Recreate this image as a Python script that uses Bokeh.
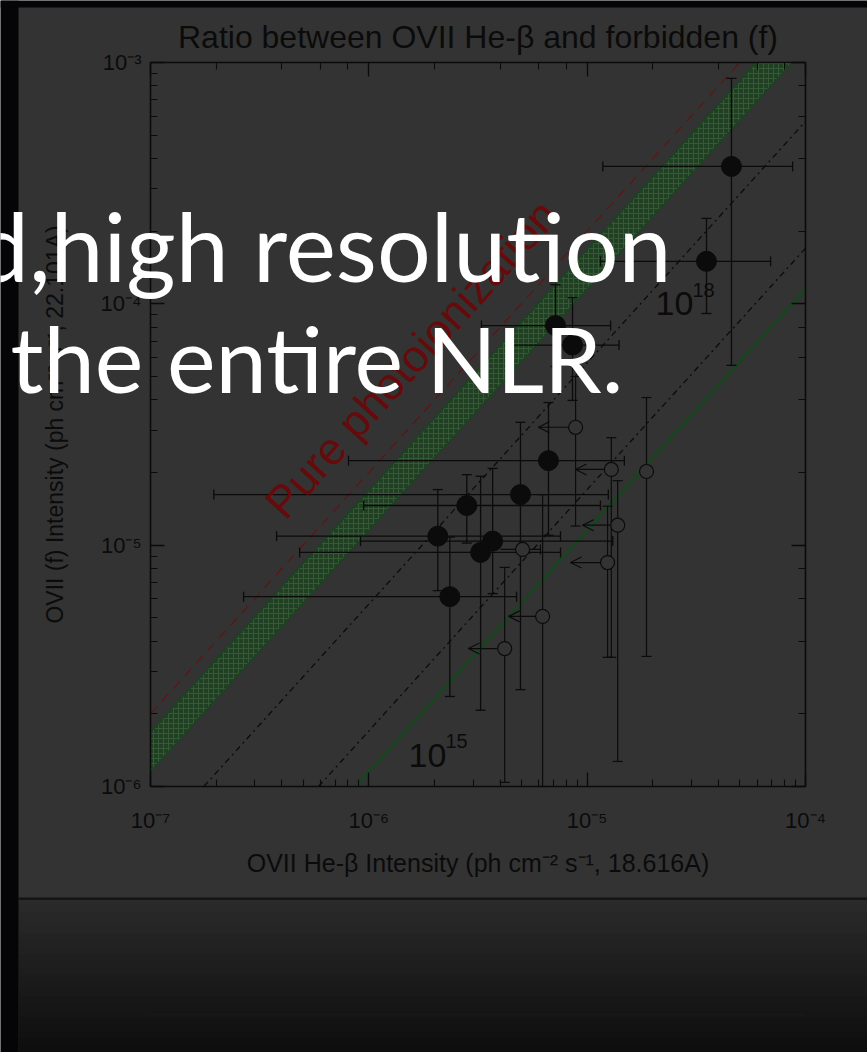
import math
from bokeh.plotting import figure
from bokeh.models import (LogAxis, LogTicker, CustomJSTickFormatter, Label,
                          BoxAnnotation, Arrow, OpenHead, ColumnDataSource, Range1d)
from bokeh.embed import file_html
from bokeh.resources import INLINE

# ---------------- data ----------------
TITLE = "Ratio between OVII He-β and forbidden (f)"
X_LABEL = "OVII He-β Intensity (ph cm⁻² s⁻¹, 18.616A)"
Y_LABEL = "OVII (f) Intensity (ph cm⁻² s⁻¹, 22.101A)"
X_LIMITS = [1e-7, 1e-4]
Y_LIMITS = [1e-6, 1e-3]

# model ratio lines:  f = k * He-beta
pure_photo_ratio = 20.0
band_ratio_low = 11.5
band_ratio_high = 16.8
dashdot_ratio_high = 5.7
dashdot_ratio_low = 1.7
green_ratio = 1.15

# detections (filled circles)
det_x    = [6.65e-6, 4.95e-6, 2.81e-6, 2.07e-6, 3.69e-6, 3.25e-6, 2.35e-6, 4.58e-5, 3.52e-5, 7.16e-6, 8.57e-6]
det_y    = [2.24e-5, 1.62e-5, 1.46e-5, 1.09e-5, 1.04e-5, 9.33e-6, 6.12e-6, 3.71e-4, 1.50e-4, 8.13e-5, 6.75e-5]
det_x_lo = [8.07e-7, 1.95e-7, 9.47e-7, 3.78e-7, 9.16e-7, 4.82e-7, 2.67e-7, 1.18e-5, 1.15e-5, 3.28e-6, 4.37e-6]
det_x_hi = [1.48e-5, 1.25e-5, 1.15e-5, 7.55e-6, 1.31e-5, 7.55e-6, 4.75e-6, 8.73e-5, 6.92e-5, 1.28e-5, 1.40e-5]
det_y_lo = [1.10e-5, 2.52e-6, 1.02e-5, 6.48e-6, 6.30e-6, 2.07e-6, 2.36e-6, 5.56e-5, 9.12e-5, 5.50e-5, 3.98e-5]
det_y_hi = [3.90e-5, 3.23e-5, 1.96e-5, 1.70e-5, 2.08e-5, 1.93e-5, 1.08e-5, 8.59e-4, 2.26e-4, 1.20e-4, 1.06e-4]

# upper limits on He-beta (open circles); arrow points to lim_to_x
lim_x    = [8.85e-6, 1.29e-5, 1.24e-5, 1.38e-5, 4.19e-6, 6.25e-6, 1.87e-5, 5.06e-6]
lim_y    = [3.08e-5, 2.06e-5, 8.47e-6, 1.21e-5, 3.73e-6, 5.07e-6, 2.02e-5, 9.60e-6]
lim_to_x = [5.98e-6, 8.85e-6, 8.39e-6, 9.53e-6, 2.86e-6, 4.37e-6, None, None]
lim_y_lo = [1.20e-5, 3.43e-6, 3.43e-6, 1.27e-6, 1.04e-6, 1.00e-6, 3.46e-6, 9.60e-6]
lim_y_hi = [5.00e-5, 2.79e-5, 1.45e-5, 1.85e-5, 8.09e-6, 1.62e-5, 4.09e-5, 9.60e-6]
lim_x_lo = [None, None, None, None, None, None, None, 4.01e-6]
lim_x_hi = [None, None, None, None, None, None, None, 6.11e-6]

# ---------------- layout / style ----------------
W, H = 867, 1052
FL, FR, FT, FB = 150, 805, 62, 786     # plot box inside the page
BG = "#333333"
INK = "#0b0b0b"
GREEN = "#1a4420"
BAND_FILL = "#213f23"
BAND_HATCH = "#365a37"
RED = "#5e1616"
RED_TEXT = "#650b0b"
MID_LIB = 0.3465   # baseline -> middle offset (em) for Liberation Sans
MID_LATO = 0.387   # same for Lato


def px_x(px):
    lo, hi = math.log10(X_LIMITS[0]), math.log10(X_LIMITS[1])
    return 10 ** (lo + (px - FL) / (FR - FL) * (hi - lo))


def px_y(py):
    lo, hi = math.log10(Y_LIMITS[0]), math.log10(Y_LIMITS[1])
    return 10 ** (lo + (FB - py) / (FB - FT) * (hi - lo))


p = figure(width=W, height=H, x_axis_type="log", y_axis_type="log",
           x_range=Range1d(px_x(0), px_x(W)), y_range=Range1d(px_y(H), px_y(0)),
           output_backend="svg", toolbar_location=None, min_border=0)
p.background_fill_color = BG
p.border_fill_color = BG
p.outline_line_color = None
p.xgrid.visible = False
p.ygrid.visible = False

sup_code = """
const e = Math.round(Math.log10(tick));
const m = {"-":"⁻","0":"⁰","1":"¹","2":"²","3":"³","4":"⁴","5":"⁵","6":"⁶","7":"⁷","8":"⁸","9":"⁹"};
return "10" + String(e).split("").map(c => m[c]).join("");
"""


def style_axis(ax, labels):
    ax.axis_line_color = INK
    ax.axis_line_width = 1.6
    ax.major_tick_line_color = INK
    ax.major_tick_line_width = 1.3
    ax.minor_tick_line_color = INK
    ax.minor_tick_line_width = 1.1
    ax.major_tick_in = 14
    ax.major_tick_out = 0
    ax.minor_tick_in = 7
    ax.minor_tick_out = 0
    if labels:
        ax.formatter = CustomJSTickFormatter(code=sup_code)
        ax.major_label_text_font = "Liberation Sans"
        ax.major_label_text_font_size = "22px"
        ax.major_label_text_color = INK
        ax.axis_label_text_font = "Liberation Sans"
        ax.axis_label_text_font_style = "normal"
        ax.axis_label_text_color = INK
    else:
        ax.major_label_text_alpha = 0


xa = p.xaxis[0]
ya = p.yaxis[0]
style_axis(xa, True)
style_axis(ya, True)
xa.fixed_location = Y_LIMITS[0]
xa.bounds = tuple(X_LIMITS)
ya.fixed_location = X_LIMITS[0]
ya.bounds = tuple(Y_LIMITS)
xa.axis_label = X_LABEL
ya.axis_label = Y_LABEL
xa.axis_label_text_font_size = "25px"
ya.axis_label_text_font_size = "23px"
xa.major_label_standoff = 21
ya.major_label_standoff = 9
xa.axis_label_standoff = 13
ya.axis_label_standoff = 30

top_ax = LogAxis(ticker=LogTicker(), fixed_location=Y_LIMITS[1], bounds=tuple(X_LIMITS))
right_ax = LogAxis(ticker=LogTicker(), fixed_location=X_LIMITS[1], bounds=tuple(Y_LIMITS))
style_axis(top_ax, False)
style_axis(right_ax, False)
p.add_layout(top_ax, "above")
p.add_layout(right_ax, "right")

# ---------------- slide background decorations ----------------
def box(l, r, t, b, color):
    p.add_layout(BoxAnnotation(left=px_x(l), right=px_x(r), top=px_y(t), bottom=px_y(b),
                               fill_color=color, fill_alpha=1, line_alpha=0, level="underlay"))


n_steps = 22
y0, y1 = 898, H
for i in range(n_steps):
    a = y0 + (y1 - y0) * i / n_steps
    b = y0 + (y1 - y0) * (i + 1) / n_steps
    c = int(round(42 - 28 * i / (n_steps - 1)))
    box(18, W, a, b + 0.5, "#%02x%02x%02x" % (c, c, c))
box(18, W, 897, 899.5, "#151515")
box(FL, FR, 1013, 1015, "#181818")
box(0, 18, 0, H, "#050507")
box(0, W, 0, 7, "#050507")

# ---------------- model lines (clipped to the plot box) ----------------
def ratio_line(k):
    x0 = max(X_LIMITS[0], Y_LIMITS[0] / k)
    x1 = min(X_LIMITS[1], Y_LIMITS[1] / k)
    return [x0, x1], [k * x0, k * x1]


def clamp_y(v):
    return min(max(v, Y_LIMITS[0]), Y_LIMITS[1])


band_x = sorted({X_LIMITS[0], X_LIMITS[1]} |
                {min(max(lim / k, X_LIMITS[0]), X_LIMITS[1])
                 for lim in Y_LIMITS for k in (band_ratio_low, band_ratio_high)})
p.varea(x=band_x, y1=[clamp_y(band_ratio_low * v) for v in band_x],
        y2=[clamp_y(band_ratio_high * v) for v in band_x],
        fill_color=BAND_FILL, hatch_pattern="cross", hatch_color=BAND_HATCH,
        hatch_scale=5, hatch_weight=1)
for k in (band_ratio_low, band_ratio_high):
    lx, ly = ratio_line(k)
    p.line(lx, ly, line_color=GREEN, line_width=1.5)
lx, ly = ratio_line(pure_photo_ratio)
p.line(lx, ly, line_color=RED, line_width=1.3, line_dash="10 7")
for k in (dashdot_ratio_high, dashdot_ratio_low):
    lx, ly = ratio_line(k)
    p.line(lx, ly, line_color=INK, line_width=1.3, line_dash="dashdot")
lx, ly = ratio_line(green_ratio)
p.line(lx, ly, line_color=GREEN, line_width=3)

# ---------------- detections ----------------
det = ColumnDataSource(dict(x=det_x, y=det_y, xlo=det_x_lo, xhi=det_x_hi,
                            ylo=det_y_lo, yhi=det_y_hi))
p.segment(x0="xlo", y0="y", x1="xhi", y1="y", source=det, line_color=INK, line_width=1.3)
p.segment(x0="x", y0="ylo", x1="x", y1="yhi", source=det, line_color=INK, line_width=1.3)
for xs, ys, ang in (("xlo", "y", math.pi / 2), ("xhi", "y", math.pi / 2),
                    ("x", "ylo", 0.0), ("x", "yhi", 0.0)):
    p.scatter(x=xs, y=ys, source=det, marker="dash", size=10, angle=ang,
              line_color=INK, line_width=1.3)

# ---------------- upper limits ----------------
lim = ColumnDataSource(dict(x=lim_x, y=lim_y, ylo=lim_y_lo, yhi=lim_y_hi))
p.segment(x0="x", y0="ylo", x1="x", y1="yhi", source=lim, line_color=INK, line_width=1.2)
for ys in ("ylo", "yhi"):
    p.scatter(x="x", y=ys, source=lim, marker="dash", size=10, line_color=INK, line_width=1.2)

arr_idx = [i for i, v in enumerate(lim_to_x) if v is not None]
arr = ColumnDataSource(dict(x=[lim_x[i] for i in arr_idx], y=[lim_y[i] for i in arr_idx],
                            xa=[lim_to_x[i] for i in arr_idx]))
p.segment(x0="x", y0="y", x1="xa", y1="y", source=arr, line_color=INK, line_width=1.2)
p.add_layout(Arrow(end=OpenHead(size=11, line_color=INK, line_width=1.2), line_alpha=0,
                   x_start="x", y_start="y", x_end="xa", y_end="y", source=arr))

bar_idx = [i for i, v in enumerate(lim_x_lo) if v is not None]
bar = ColumnDataSource(dict(y=[lim_y[i] for i in bar_idx], xlo=[lim_x_lo[i] for i in bar_idx],
                            xhi=[lim_x_hi[i] for i in bar_idx]))
p.segment(x0="xlo", y0="y", x1="xhi", y1="y", source=bar, line_color=INK, line_width=1.2)
p.scatter(x="xhi", y="y", source=bar, marker="dash", angle=math.pi / 2, size=10,
          line_color=INK, line_width=1.2)

p.scatter(x="x", y="y", source=lim, marker="circle", size=14, fill_color=BG,
          line_color=INK, line_width=1.2)
p.scatter(x="x", y="y", source=det, marker="circle", size=20, fill_color=INK, line_color=INK)

# ---------------- texts ----------------
def label(txt, x_px, base_px, size, font, mid, color, align="left", angle=0.0):
    s = float(size)
    dx = -mid * s * math.sin(angle)
    dy = -mid * s * math.cos(angle)
    p.add_layout(Label(x=px_x(x_px + dx), y=px_y(base_px + dy), text=txt, angle=angle,
                       text_font=font, text_font_size="%dpx" % size, text_color=color,
                       text_align=align, text_baseline="middle"))


label(TITLE, (FL + FR) / 2, 48, 32, "Liberation Sans", MID_LIB, INK, align="center")
label("Pure photoionization", 285, 521, 45, "Liberation Sans", MID_LIB, RED_TEXT,
      angle=math.atan2(FB - FT, FR - FL))
label("10", 655, 315, 34, "Liberation Sans", MID_LIB, INK)
label("18", 692, 296, 20, "Liberation Sans", MID_LIB, INK)
label("10", 408, 767, 34, "Liberation Sans", MID_LIB, INK)
label("15", 445, 747, 20, "Liberation Sans", MID_LIB, INK)

# slide caption overlay
label("d,", 50, 281, 95, "Lato", MID_LATO, "#ffffff", align="right")
label("high resolution", 50, 281, 95, "Lato", MID_LATO, "#ffffff")
label("the entire NLR.", 10, 393, 92, "Lato", MID_LATO, "#ffffff")

open("out.html", "w").write(file_html(p, INLINE))
